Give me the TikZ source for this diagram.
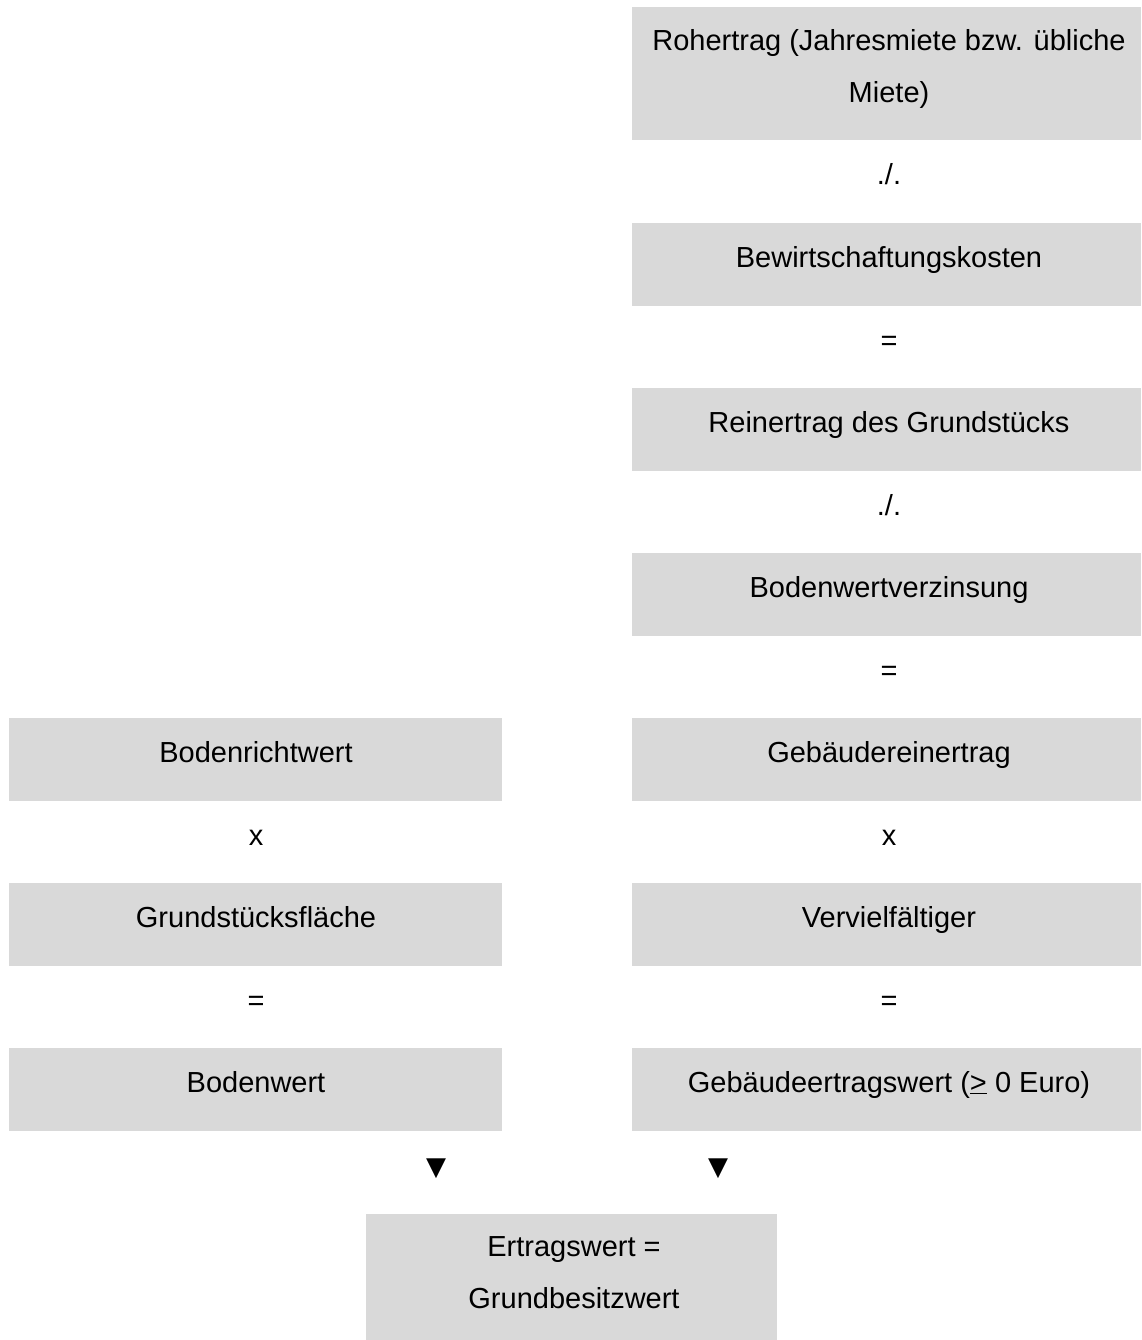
\documentclass[tikz,border=0pt]{standalone}
\usepackage{fontspec}
\setmainfont{Liberation Sans}
\newfontfamily\symfont{DejaVu Sans}
\definecolor{boxgray}{HTML}{D9D9D9}
\tikzset{
  gbox/.style={fill=boxgray, draw=none, inner sep=0pt, outer sep=0pt, anchor=north west},
  txt/.style={anchor=base, inner sep=0pt, font=\fontsize{29}{52}\selectfont, align=center},
  op/.style={txt},
  tri/.style={anchor=base, inner sep=0pt, font=\symfont\fontsize{26}{30}\selectfont}
}
\begin{document}
\begin{tikzpicture}[x=1pt,y=-1pt]
\useasboundingbox (0,0) rectangle (1141,1340);
% right column boxes
\node[gbox, minimum width=509pt, minimum height=133pt] (r1) at (632,7) {};
\node[gbox, minimum width=509pt, minimum height=83pt] (r2) at (632,223) {};
\node[gbox, minimum width=509pt, minimum height=83pt] (r3) at (632,388) {};
\node[gbox, minimum width=509pt, minimum height=83pt] (r4) at (632,553) {};
\node[gbox, minimum width=509pt, minimum height=83pt] (r5) at (632,718) {};
\node[gbox, minimum width=509pt, minimum height=83pt] (r6) at (632,883) {};
\node[gbox, minimum width=509pt, minimum height=83pt] (r7) at (632,1048) {};
% left column boxes
\node[gbox, minimum width=493pt, minimum height=83pt] (l1) at (9,718) {};
\node[gbox, minimum width=493pt, minimum height=83pt] (l2) at (9,883) {};
\node[gbox, minimum width=493pt, minimum height=83pt] (l3) at (9,1048) {};
% final box
\node[gbox, minimum width=411pt, minimum height=126pt] (fb) at (366,1214) {};

% right texts
\node[txt] (tr1) at (889,103) {Rohertrag (Jahresmiete bzw. übliche\\Miete)};
\node[op] (o1) at (889,185) {./.};
\node[txt] (tr2) at (889,267) {Bewirtschaftungskosten};
\node[op] (o2) at (889,350) {=};
\node[txt] (tr3) at (889,432) {Reinertrag des Grundstücks};
\node[op] (o3) at (889,515) {./.};
\node[txt] (tr4) at (889,597) {Bodenwertverzinsung};
\node[op] (o4) at (889,680) {=};
\node[txt] (tr5) at (889,762) {Gebäudereinertrag};
\node[op] (o5) at (889,845) {x};
\node[txt] (tr6) at (889,927) {Vervielfältiger};
\node[op] (o6) at (889,1010) {=};
\node[txt] (tr7) at (889,1092) {Gebäudeertragswert (\underline{>} 0 Euro)};
% left texts
\node[txt] (tl1) at (256,762) {Bodenrichtwert};
\node[op] (p1) at (256,845) {x};
\node[txt] (tl2) at (256,927) {Grundstücksfläche};
\node[op] (p2) at (256,1010) {=};
\node[txt] (tl3) at (256,1092) {Bodenwert};
% arrows
\node[tri] (a1) at (436,1175) {▼};
\node[tri] (a2) at (718,1175) {▼};
% final text
\node[txt] (tf) at (574,1308) {Ertragswert =\\Grundbesitzwert};
\end{tikzpicture}
\end{document}
